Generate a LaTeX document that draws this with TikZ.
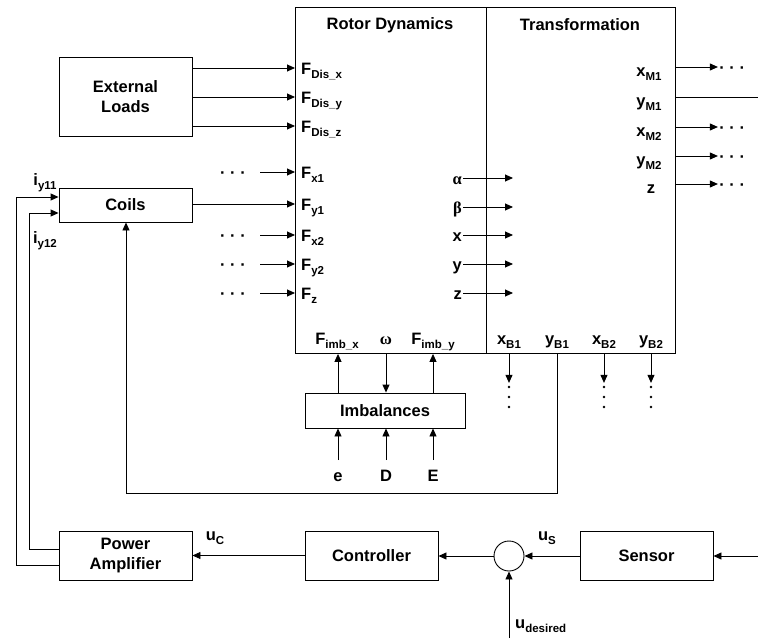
\documentclass[tikz,border=0pt]{standalone}
\usepackage{fontspec}
\setmainfont{Liberation Sans}
\newfontfamily\grk{Liberation Serif}
\usetikzlibrary{arrows.meta}

\newcommand{\lsub}[1]{\raisebox{-4pt}{\fontsize{11.5}{12}\selectfont #1}}
\newcommand{\hdots}{\textperiodcentered\ \textperiodcentered\ \textperiodcentered}

\tikzset{
  blk/.style={draw, line width=0.9pt, inner sep=0pt, align=center,
    minimum width=133pt, minimum height=49pt},
  sig/.style={line width=0.9pt, -{Triangle[length=8pt,width=7pt]}},
  wire/.style={line width=0.9pt},
  lbl/.style={inner sep=1pt, text height=12pt, text depth=0pt},
}

\begin{document}
\begin{tikzpicture}[x=1pt, y=-1pt, font=\fontsize{16.5}{20}\selectfont\bfseries]
\useasboundingbox (0,0) rectangle (758,638);

% main block
\node[blk, minimum width=191pt, minimum height=346pt, anchor=north west] (rotor) at (295,7) {};
\node[blk, minimum width=189pt, minimum height=346pt, anchor=north west] (trans) at (486,7) {};
\node (rottitle) at (390,25) {Rotor Dynamics};
\node (trtitle) at (580,25) {Transformation};

% side blocks
\node[blk, minimum height=79pt] (ext) at (125.5,96.5) {External\\Loads};
\node[blk, minimum height=34pt] (coils) at (125.5,205) {Coils};
\node[blk, minimum width=160pt, minimum height=35pt] (imb) at (385,410.5) {Imbalances};
\node[blk] (amp) at (125.5,555.5) {Power\\Amplifier};
\node[blk] (ctrl) at (371.5,555.5) {Controller};
\node[blk] (sens) at (646.5,555.5) {Sensor};
\node[draw, circle, line width=0.9pt, minimum size=30pt, inner sep=0pt] (sum) at (509,556) {};

% force inputs
\node[lbl, anchor=west] (fdx) at (300,68) {F\lsub{Dis\_x}};
\node[lbl, anchor=west] (fdy) at (300,97) {F\lsub{Dis\_y}};
\node[lbl, anchor=west] (fdz) at (300,126) {F\lsub{Dis\_z}};
\node[lbl, anchor=west] (fx1) at (300,172) {F\lsub{x1}};
\node[lbl, anchor=west] (fy1) at (300,204) {F\lsub{y1}};
\node[lbl, anchor=west] (fx2) at (300,235) {F\lsub{x2}};
\node[lbl, anchor=west] (fy2) at (300,264) {F\lsub{y2}};
\node[lbl, anchor=west] (fz) at (300,293) {F\lsub{z}};

\draw[sig] (ext.east |- fdx) -- (rotor.west |- fdx);
\draw[sig] (ext.east |- fdy) -- (rotor.west |- fdy);
\draw[sig] (ext.east |- fdz) -- (rotor.west |- fdz);
\draw[sig] (coils.east |- fy1) -- (rotor.west |- fy1);

\node[lbl] (dx1) at (233,172) {\hdots};
\node[lbl] (dx2) at (233,235) {\hdots};
\node[lbl] (dy2) at (233,264) {\hdots};
\node[lbl] (dz) at (233,293) {\hdots};
\draw[sig] ([xshift=13pt]dx1.east) -- (rotor.west |- dx1);
\draw[sig] ([xshift=13pt]dx2.east) -- (rotor.west |- dx2);
\draw[sig] ([xshift=13pt]dy2.east) -- (rotor.west |- dy2);
\draw[sig] ([xshift=13pt]dz.east) -- (rotor.west |- dz);

% states to transformation
\node[lbl, anchor=east] (oal) at (463,178) {\grk α};
\node[lbl, anchor=east] (obe) at (463,207) {\grk β};
\node[lbl, anchor=east] (ox) at (463,235) {x};
\node[lbl, anchor=east] (oy) at (463,264) {y};
\node[lbl, anchor=east] (oz) at (463,293) {z};
\draw[sig] (oal.east) -- ([xshift=27pt]trans.west |- oal);
\draw[sig] (obe.east) -- ([xshift=27pt]trans.west |- obe);
\draw[sig] (ox.east) -- ([xshift=27pt]trans.west |- ox);
\draw[sig] (oy.east) -- ([xshift=27pt]trans.west |- oy);
\draw[sig] (oz.east) -- ([xshift=27pt]trans.west |- oz);

% measured outputs
\node[lbl] (xm1) at (649,70) {x\lsub{M1}};
\node[lbl] (ym1) at (649,100) {y\lsub{M1}};
\node[lbl] (xm2) at (649,130) {x\lsub{M2}};
\node[lbl] (ym2) at (649,159) {y\lsub{M2}};
\node[lbl] (zm) at (651,187) {z};
\draw[sig] (trans.east |- 0,67) -- ++(42,0) node[lbl, right] (dm1) {\hdots};
\draw[sig] (trans.east |- 0,127) -- ++(42,0) node[lbl, right] (dm2) {\hdots};
\draw[sig] (trans.east |- 0,156) -- ++(42,0) node[lbl, right] (dm3) {\hdots};
\draw[sig] (trans.east |- 0,184) -- ++(42,0) node[lbl, right] (dm4) {\hdots};
\coordinate (rimy) at (758,97);
\draw[wire] (trans.east |- rimy) -- (rimy);

% imbalance
\node[lbl] (fix) at (337,338) {F\lsub{imb\_x}};
\node[lbl] (om) at (386,338) {\grk ω};
\node[lbl] (fiy) at (433,338) {F\lsub{imb\_y}};
\draw[sig] (imb.north -| 338,0) -- (rotor.south -| 338,0);
\draw[sig] (rotor.south -| om) -- (imb.north -| om);
\draw[sig] (imb.north -| fiy) -- (rotor.south -| fiy);

\node[anchor=base] (ie) at (338,481) {e};
\node[anchor=base] (iD) at (386,481) {D};
\node[anchor=base] (iE) at (433,481) {E};
\draw[sig] ([yshift=21pt]ie.base) -- (imb.south -| ie);
\draw[sig] ([yshift=21pt]iD.base) -- (imb.south -| iD);
\draw[sig] ([yshift=21pt]iE.base) -- (imb.south -| iE);

% bearing outputs
\node[lbl] (xb1) at (509,338) {x\lsub{B1}};
\node[lbl] (yb1) at (557,338) {y\lsub{B1}};
\node[lbl] (xb2) at (604,338) {x\lsub{B2}};
\node[lbl] (yb2) at (651,338) {y\lsub{B2}};
\draw[sig] (trans.south -| xb1) -- ++(0,29);
\draw[sig] (trans.south -| xb2) -- ++(0,29);
\draw[sig] (trans.south -| yb2) -- ++(0,29);
\foreach \xx in {509,604,651}
  \foreach \yy in {387,397,407}
    \fill (\xx,\yy) circle [radius=1.3pt];

% feedback to coils
\coordinate (fb) at (126,493);
\draw[sig] (trans.south -| yb1) |- (fb) -- (coils.south -| fb);

% control loop
\coordinate (rimin) at (758,556);
\coordinate (udes) at (509,638);
\draw[sig] (rimin) -- (sens.east |- rimin);
\draw[sig] (sens.west |- sum) -- (sum.east);
\draw[sig] (udes) -- (sum.south);
\draw[sig] (sum.west) -- (ctrl.east |- sum);
\draw[sig] (ctrl.west |- amp) -- (amp.east);
\node[lbl] (uc) at (215,534) {u\lsub{C}};
\node[lbl] (us) at (547,534) {u\lsub{S}};
\node[lbl, anchor=west] (ud) at (514,622) {u\lsub{desired}};

% currents
\coordinate (c1) at (16,197);
\coordinate (c2) at (29,213);
\draw[sig] (amp.west |- 0,565) -| (c1) -- (coils.west |- c1);
\draw[sig] (amp.west |- 0,549) -| (c2) -- (coils.west |- c2);
\node[lbl] (iy1) at (45,179) {i\lsub{y11}};
\node[lbl] (iy2) at (45,237) {i\lsub{y12}};

\end{tikzpicture}
\end{document}
